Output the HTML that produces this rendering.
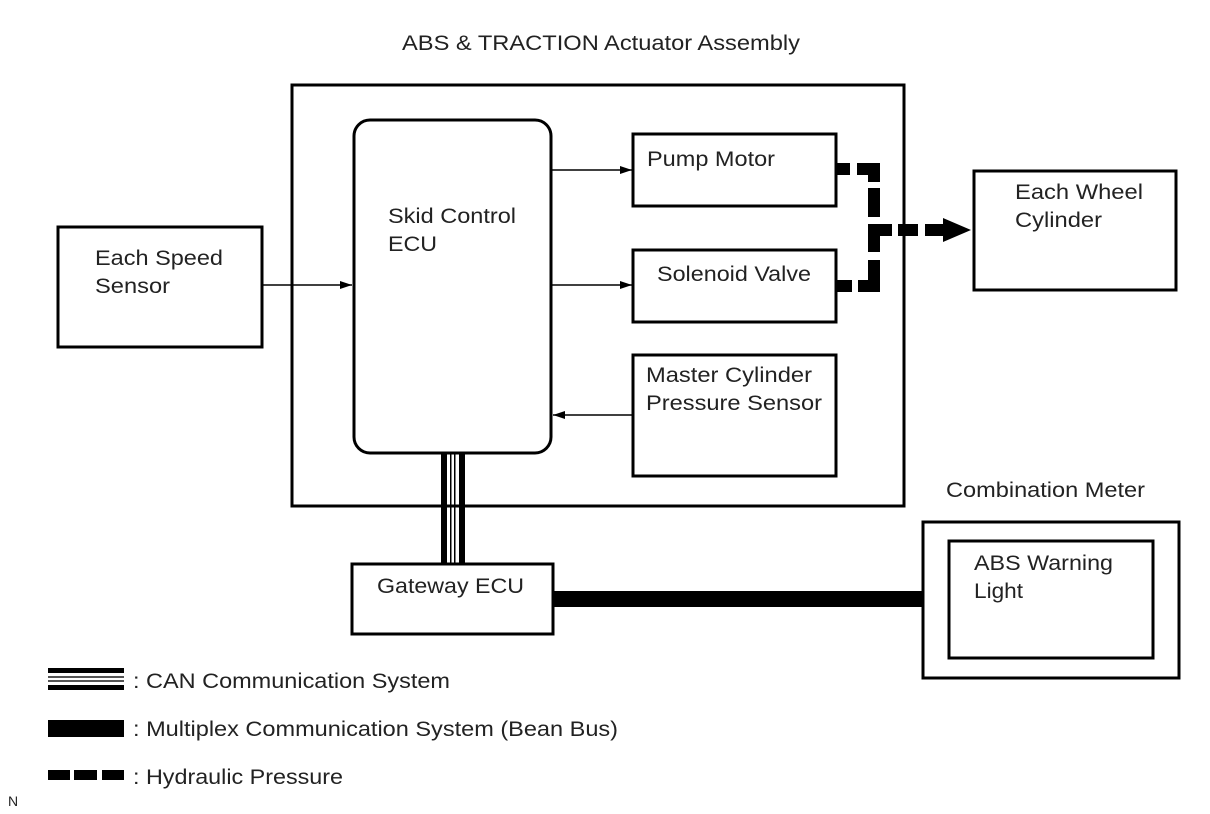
<!DOCTYPE html>
<html><head><style>body{margin:0;background:#fff}svg{display:block}text{font-family:"Liberation Sans",sans-serif;font-size:21px;fill:#222}</style></head>
<body>
<svg width="1210" height="814" viewBox="0 0 1210 814">
<defs><marker id="a" markerWidth="12" markerHeight="8" refX="12" refY="4" orient="auto" markerUnits="userSpaceOnUse"><path d="M0,0L12,4L0,8z" fill="#000"/></marker></defs>
<g fill="none" stroke="#000" stroke-width="3">
<rect x="292" y="85" width="612" height="421"/>
<rect x="354" y="120" width="197" height="333" rx="16"/>
<rect x="633" y="134" width="203" height="72"/>
<rect x="633" y="250" width="203" height="72"/>
<rect x="633" y="355" width="203" height="121"/>
<rect x="58" y="227" width="204" height="120"/>
<rect x="974" y="171" width="202" height="119"/>
<rect x="923" y="522" width="256" height="156"/>
<rect x="949" y="541" width="204" height="117"/>
<rect x="352" y="564" width="201" height="70"/>
</g>
<g stroke="#000" stroke-width="1.5">
<line x1="262" y1="285" x2="352" y2="285" marker-end="url(#a)"/>
<line x1="552" y1="170" x2="632" y2="170" marker-end="url(#a)"/>
<line x1="552" y1="285" x2="632" y2="285" marker-end="url(#a)"/>
<line x1="632" y1="415" x2="553" y2="415" marker-end="url(#a)"/>
</g>
<rect x="441" y="454" width="6" height="110" fill="#000"/>
<rect x="459" y="454" width="6" height="110" fill="#000"/>
<rect x="450" y="454" width="1.5" height="110" fill="#000"/>
<rect x="454" y="454" width="1.5" height="110" fill="#000"/>
<rect x="553" y="591" width="370" height="16" fill="#000"/>
<g fill="#000">
<rect x="836" y="163" width="14" height="12"/>
<rect x="857" y="163" width="23" height="12"/>
<rect x="868" y="163" width="12" height="19"/>
<rect x="868" y="188" width="12" height="29"/>
<rect x="868" y="224" width="12" height="28"/>
<rect x="868" y="224" width="24" height="12"/>
<rect x="898" y="224" width="20" height="12"/>
<rect x="925" y="224" width="20" height="12"/>
<path d="M943,218L971,230L943,242z"/>
<rect x="868" y="260" width="12" height="32"/>
<rect x="858" y="280" width="22" height="12"/>
<rect x="836" y="280" width="16" height="12"/>
</g>
<rect x="48" y="668" width="76" height="5" fill="#000"/>
<rect x="48" y="676" width="76" height="2" fill="#555"/>
<rect x="48" y="680" width="76" height="2" fill="#555"/>
<rect x="48" y="685" width="76" height="5" fill="#000"/>
<rect x="48" y="720" width="76" height="17" fill="#000"/>
<rect x="48" y="770" width="22" height="10" fill="#000"/>
<rect x="74" y="770" width="23" height="10" fill="#000"/>
<rect x="102" y="770" width="22" height="10" fill="#000"/>
<text x="402" y="50" textLength="398" lengthAdjust="spacingAndGlyphs">ABS &amp; TRACTION Actuator Assembly</text>
<text x="388" y="223" textLength="128" lengthAdjust="spacingAndGlyphs">Skid Control</text><text x="388" y="251" textLength="49" lengthAdjust="spacingAndGlyphs">ECU</text>
<text x="647" y="166" textLength="128" lengthAdjust="spacingAndGlyphs">Pump Motor</text>
<text x="657" y="281" textLength="154" lengthAdjust="spacingAndGlyphs">Solenoid Valve</text>
<text x="646" y="382" textLength="166" lengthAdjust="spacingAndGlyphs">Master Cylinder</text><text x="646" y="410" textLength="176" lengthAdjust="spacingAndGlyphs">Pressure Sensor</text>
<text x="95" y="265" textLength="128" lengthAdjust="spacingAndGlyphs">Each Speed</text><text x="95" y="293" textLength="75" lengthAdjust="spacingAndGlyphs">Sensor</text>
<text x="1015" y="199" textLength="128" lengthAdjust="spacingAndGlyphs">Each Wheel</text><text x="1015" y="227" textLength="87" lengthAdjust="spacingAndGlyphs">Cylinder</text>
<text x="946" y="497" textLength="199" lengthAdjust="spacingAndGlyphs">Combination Meter</text>
<text x="974" y="570" textLength="139" lengthAdjust="spacingAndGlyphs">ABS Warning</text><text x="974" y="598" textLength="49" lengthAdjust="spacingAndGlyphs">Light</text>
<text x="377" y="593" textLength="147" lengthAdjust="spacingAndGlyphs">Gateway ECU</text>
<text x="133" y="688" textLength="317" lengthAdjust="spacingAndGlyphs">: CAN Communication System</text>
<text x="133" y="736" textLength="485" lengthAdjust="spacingAndGlyphs">: Multiplex Communication System (Bean Bus)</text>
<text x="133" y="784" textLength="210" lengthAdjust="spacingAndGlyphs">: Hydraulic Pressure</text>
<text x="8" y="806" style="font-size:14px">N</text>
</svg>
</body></html>
